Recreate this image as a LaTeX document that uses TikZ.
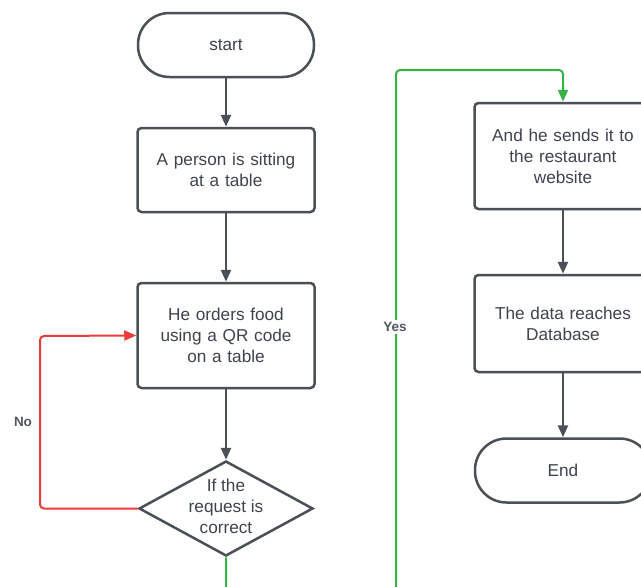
\documentclass[tikz,border=0pt]{standalone}
\usepackage{fontspec}
\setmainfont{Liberation Sans}
\usetikzlibrary{shapes.geometric,arrows.meta}
\definecolor{edge}{HTML}{4A4F58}
\definecolor{ink}{HTML}{3E4350}
\definecolor{nored}{HTML}{EC3B3B}
\definecolor{yesgreen}{HTML}{33B545}
\tikzset{
  x=1pt, y=-1pt,
  every node/.style={font=\fontsize{17.2}{21}\selectfont, text=ink},
  procbox/.style={draw=edge, line width=2.5pt, rounded corners=4pt, fill=white,
    minimum width=177pt, text width=165pt, align=center, inner sep=0pt},
  term/.style={draw=edge, line width=2.5pt, rounded corners=31.5pt, fill=white,
    minimum width=176pt, minimum height=64pt, inner sep=0pt},
  decision/.style={draw=edge, line width=2.5pt, diamond, fill=white,
    minimum width=174pt, minimum height=95pt, inner sep=0pt},
  flow/.style={draw=edge, line width=2.5pt, -{Triangle[length=12pt,width=10pt]}},
  noflow/.style={draw=nored, line width=2pt, rounded corners=4pt,
    -{Triangle[length=12pt,width=10pt]}},
  yesflow/.style={draw=yesgreen, line width=2pt, rounded corners=4pt,
    -{Triangle[length=12pt,width=10pt]}},
  edgelabel/.style={font=\fontsize{13.5}{15}\selectfont\bfseries, text=ink!90,
    fill=white, inner sep=2pt},
}
\begin{document}
\begin{tikzpicture}
\clip (0,0) rectangle (641,587);
\fill[white] (0,0) rectangle (641,587);

% left column
\node[term] (start) at (226,45) {start};
\node[procbox, minimum height=84pt] (sit) at (226,170) {A person is sitting\\at a table};
\node[procbox, minimum height=105pt] (order) at (226,335.5) {He orders food\\using a QR code\\on a table};
\node[decision] (check) at (226,508.5) {};
\node (checktext) at (226,506) [align=center] {If the\\request is\\correct};

% right column
\node[procbox, minimum height=106pt] (send) at (563,156) {And he sends it to\\the restaurant\\website};
\node[procbox, minimum height=97pt] (db) at (563,323.5) {The data reaches\\Database};
\node[term] (end) at (563,470.5) {End};

% main flow
\draw[flow] (start) -- (sit);
\draw[flow] (sit) -- (order);
\draw[flow] (order) -- (check);
\draw[flow] (send) -- (db);
\draw[flow] (db) -- (end);

% request rejected: back to ordering
\draw[noflow] (check.west) -| (40,336) -- (order.west);
\node[edgelabel, fill=none] (nolabel) at (23,422) {No};

% request accepted: on to the website
\draw[yesflow] (check.south) -- (226,620) -- (396,620) -- (396,70) -| (send.north);
\node[edgelabel] (yeslabel) at (395,327) {Yes};
\end{tikzpicture}
\end{document}
